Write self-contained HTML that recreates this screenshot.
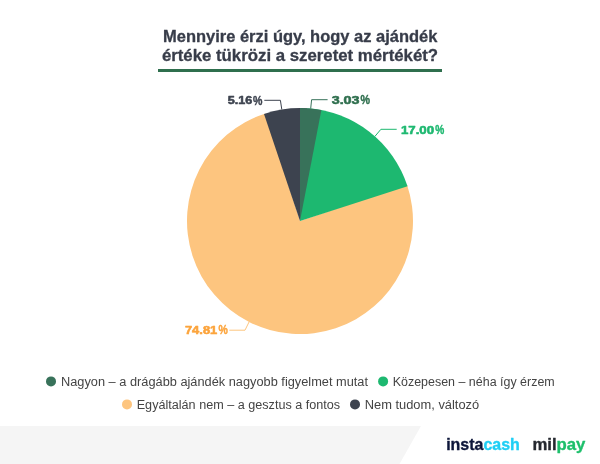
<!DOCTYPE html>
<html lang="hu">
<head>
<meta charset="utf-8">
<title>Mennyire érzi úgy, hogy az ajándék értéke tükrözi a szeretet mértékét?</title>
<style>
html,body{margin:0;padding:0;background:#fff;}
body{width:600px;height:464px;overflow:hidden;position:relative;font-family:"Liberation Sans",sans-serif;}
svg{position:absolute;left:0;top:0;display:block;}
text{font-family:"Liberation Sans",sans-serif;}
.t{font-weight:700;font-size:16.5px;fill:#373c49;stroke:#373c49;stroke-width:0.3px;paint-order:stroke;stroke-linejoin:round;}
.lb{font-weight:700;font-size:11.2px;stroke-width:0.55px;paint-order:stroke;stroke-linejoin:round;}
.pc{stroke-width:0.4px;font-size:12px;}
.lg{font-size:12.5px;fill:#444;}
.logo{font-weight:700;font-size:16.5px;stroke-width:0.35px;paint-order:stroke;stroke-linejoin:round;}
</style>
</head>
<body>
<svg width="600" height="464" viewBox="0 0 600 464">
<rect width="600" height="464" fill="#fff"/>
<!-- footer band -->
<path d="M0 426H421L399.5 464H0Z" fill="#f5f5f5"/>
<!-- title -->
<text class="t" x="163" y="41.6" textLength="274.4" lengthAdjust="spacingAndGlyphs">Mennyire érzi úgy, hogy az ajándék</text>
<text class="t" x="161.9" y="61" textLength="276.2" lengthAdjust="spacingAndGlyphs">értéke tükrözi a szeretet mértékét?</text>
<rect x="158" y="69" width="284" height="3" fill="#2f6f4e"/>
<!-- pie -->
<path d="M300 221L407.02 184.73A113 113 0 1 1 265.55 113.38Z" fill="#fdc57f"/>
<path d="M300 221L307.10 108.22A113 113 0 0 1 407.54 186.28Z" fill="#1db870"/>
<path d="M300 221L264.00 113.89A113 113 0 0 1 307.10 108.22Z" fill="#3d434f"/>
<path d="M300 221L300.00 108.00A113 113 0 0 1 321.38 110.04Z" fill="#38725a"/>
<!-- leader lines -->
<g fill="none" stroke-width="1">
<path d="M310.7 108.5L311.6 99.7H327.6" stroke="#38725a"/>
<path d="M281.8 109.5L280.4 100.3H264.3" stroke="#3d434f"/>
<path d="M374.9 136.4L380.9 129.3H396.7" stroke="#1db870"/>
<path d="M249.1 321.9L245 330.2H229.3" stroke="#fdc57f"/>
</g>
<!-- labels -->
<text class="lb" fill="#3d434f" stroke="#3d434f"><tspan x="227.7" y="104.4" textLength="24.5" lengthAdjust="spacingAndGlyphs">5.16</tspan><tspan class="pc" x="253.1" y="104.5" textLength="9.4" lengthAdjust="spacingAndGlyphs">%</tspan></text>
<text class="lb" fill="#2f6f4e" stroke="#2f6f4e"><tspan x="331.7" y="103.6" textLength="27.8" lengthAdjust="spacingAndGlyphs">3.03</tspan><tspan class="pc" x="360.5" y="103.7" textLength="9.5" lengthAdjust="spacingAndGlyphs">%</tspan></text>
<text class="lb" fill="#1db870" stroke="#1db870"><tspan x="400.9" y="133.8" textLength="33.2" lengthAdjust="spacingAndGlyphs">17.00</tspan><tspan class="pc" x="435.2" y="133.9" textLength="9.0" lengthAdjust="spacingAndGlyphs">%</tspan></text>
<text class="lb" fill="#fca43c" stroke="#fca43c"><tspan x="184.9" y="334.3" textLength="32.4" lengthAdjust="spacingAndGlyphs">74.81</tspan><tspan class="pc" x="218.5" y="334.4" textLength="9.3" lengthAdjust="spacingAndGlyphs">%</tspan></text>
<!-- legend -->
<circle cx="51" cy="381.4" r="5" fill="#38725a"/>
<text class="lg" x="61" y="385.8" textLength="307" lengthAdjust="spacingAndGlyphs">Nagyon – a drágább ajándék nagyobb figyelmet mutat</text>
<circle cx="383.1" cy="381.4" r="5" fill="#1db870"/>
<text class="lg" x="392.7" y="385.8" textLength="162" lengthAdjust="spacingAndGlyphs">Közepesen – néha így érzem</text>
<circle cx="127" cy="404.4" r="5" fill="#fdc57f"/>
<text class="lg" x="136.7" y="408.8" textLength="203.5" lengthAdjust="spacingAndGlyphs">Egyáltalán nem – a gesztus a fontos</text>
<circle cx="355" cy="404.4" r="5" fill="#3d434f"/>
<text class="lg" x="364.7" y="408.8" textLength="114.5" lengthAdjust="spacingAndGlyphs">Nem tudom, változó</text>
<!-- logos -->
<text class="logo" x="446.2" y="450.3" textLength="73.6" lengthAdjust="spacingAndGlyphs"><tspan fill="#0c1539" stroke="#0c1539">insta</tspan><tspan fill="#1fcff5" stroke="#1fcff5">cash</tspan></text>
<text class="logo" x="532.4" y="450.4" textLength="53" lengthAdjust="spacingAndGlyphs"><tspan fill="#24272e" stroke="#24272e">mil</tspan><tspan fill="#1dbf6b" stroke="#1dbf6b">pay</tspan></text>
</svg>
</body>
</html>
